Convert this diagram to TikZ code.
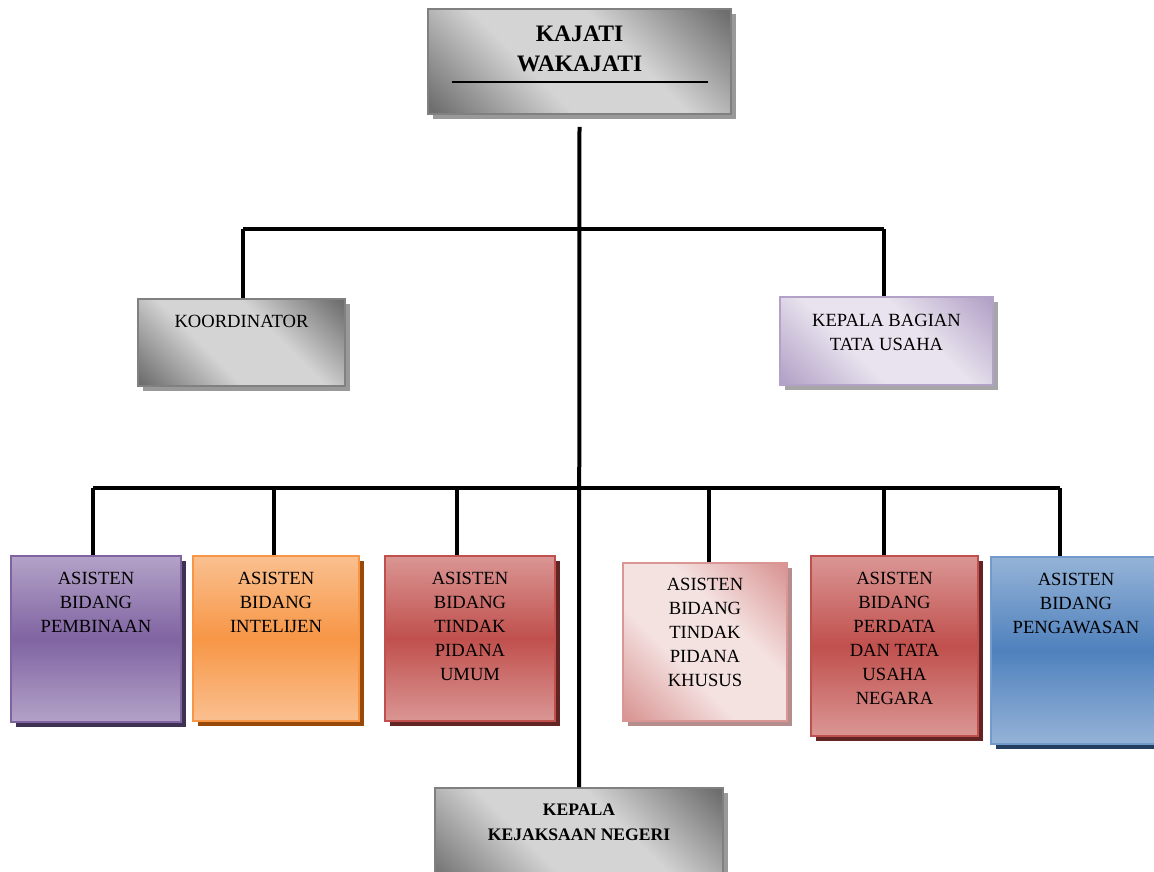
\documentclass[tikz,border=0pt]{standalone}
\usepackage{fontspec}
\setmainfont{Liberation Serif}
\usetikzlibrary{positioning,shadows}

\definecolor{gdark}{HTML}{6E6E6E}
\definecolor{glight}{HTML}{D4D4D4}
\definecolor{pulight}{HTML}{B3A2C7}
\definecolor{pudark}{HTML}{8064A2}
\definecolor{pushadow}{HTML}{3F3151}
\definecolor{orlight}{HTML}{FAC090}
\definecolor{ordark}{HTML}{F79646}
\definecolor{orshadow}{HTML}{984807}
\definecolor{relight}{HTML}{DA9694}
\definecolor{redark}{HTML}{C0504D}
\definecolor{reshadow}{HTML}{632523}
\definecolor{pilight}{HTML}{F4E2E1}
\definecolor{pidark}{HTML}{D99694}
\definecolor{blight}{HTML}{95B3D7}
\definecolor{bdark}{HTML}{4F81BD}
\definecolor{bshadow}{HTML}{244061}
\definecolor{lalight}{HTML}{E8E3EE}
\colorlet{glowout}{gdark}
\colorlet{glowin}{glight}
\pgfdeclareverticalshading[glowout,glowin]{glow}{100bp}{color(0bp)=(glowout); color(16bp)=(glowout); color(40bp)=(glowin); color(60bp)=(glowin); color(84bp)=(glowout); color(100bp)=(glowout)}

\begin{document}
\begin{tikzpicture}[x=0.5pt,y=-0.5pt,
  box/.style={anchor=north west,inner sep=0pt,line width=1pt},
  shad/.style={drop shadow={shadow xshift=2.5pt,shadow yshift=-2.5pt,fill=#1,opacity=1}},
  diag/.style 2 args={box,draw=#1,/utils/exec={\colorlet{glowout}{#1}\colorlet{glowin}{#2}},shading=glow,shading angle=-45},
  vert/.style 2 args={box,draw=#2,top color=#1,bottom color=#1,middle color=#2},
  txt/.style={align=center,inner sep=0pt,font=\fontsize{9.3}{12}\selectfont},
  conn/.style={line width=2pt}]
\useasboundingbox (0,0) rectangle (1154,871);

\node [diag={gdark}{glight},draw=gray,shad=gray!80,minimum width=151.5pt,minimum height=52.5pt] (top) at (427,8) {};
\node [txt,font=\fontsize{11.8}{15}\selectfont\bfseries,below=9pt of top.north] (topt) {KAJATI\\WAKAJATI};
\draw [line width=0.8pt] (452,82) -- (708,82);

\node [diag={gdark}{glight},draw=gray,shad=gray!80,minimum width=103.5pt,minimum height=43.5pt] (koor) at (137,298) {};
\node [txt,below=8.5pt of koor.north] (koort) {KOORDINATOR};

\node [diag={pulight}{lalight},shad=gray!70,minimum width=106.5pt,minimum height=44pt] (kbtu) at (779,296) {};
\node [txt,below=9pt of kbtu.north] (kbtut) {KEPALA BAGIAN\\TATA USAHA};

\node [vert={pulight}{pudark},shad=pushadow,minimum width=85pt,minimum height=83pt] (p1) at (10,555) {};
\node [txt,below=8.5pt of p1.north] (p1t) {ASISTEN\\BIDANG\\PEMBINAAN};

\node [vert={orlight}{ordark},shad=orshadow,minimum width=83pt,minimum height=82.5pt] (p2) at (192,555) {};
\node [txt,below=8.5pt of p2.north] (p2t) {ASISTEN\\BIDANG\\INTELIJEN};

\node [vert={relight}{redark},shad=reshadow,minimum width=85pt,minimum height=82.5pt] (p3) at (384,555) {};
\node [txt,below=8.5pt of p3.north] (p3t) {ASISTEN\\BIDANG\\TINDAK\\PIDANA\\UMUM};

\node [diag={pidark}{pilight},shad=pidark!60!gray,minimum width=82pt,minimum height=79pt] (p4) at (622,562) {};
\node [txt,below=8pt of p4.north] (p4t) {ASISTEN\\BIDANG\\TINDAK\\PIDANA\\KHUSUS};

\node [vert={relight}{redark},shad=reshadow,minimum width=83.5pt,minimum height=90pt] (p5) at (810,555) {};
\node [txt,below=8.5pt of p5.north] (p5t) {ASISTEN\\BIDANG\\PERDATA\\DAN TATA\\USAHA\\NEGARA};

\node [vert={blight}{bdark},draw=bdark!80,shad=bshadow,minimum width=85pt,minimum height=93.5pt] (p6) at (990,556) {};
\node [txt,below=8.5pt of p6.north] (p6t) {ASISTEN\\BIDANG\\PENGAWASAN};

\node [diag={gdark}{glight},draw=gray,shad=gray!80,minimum width=144pt,minimum height=50pt] (kn) at (434,787) {};
\node [txt,font=\fontsize{8.8}{12.5}\selectfont\bfseries,below=8pt of kn.north] (knt) {KEPALA\\KEJAKSAAN NEGERI};

% garis
\coordinate (c1) at (243,229);
\coordinate (c2) at (884,229);
\coordinate (b1) at (93,488);
\coordinate (b2) at (274,488);
\coordinate (b3) at (457,488);
\coordinate (b4) at (709,488);
\coordinate (b5) at (884,488);
\coordinate (b6) at (1060,488);

\draw [conn,shorten <=6pt] (top.south) -- (kn.north);
\draw [conn] (c1) -- (c2);
\draw [conn] (c1) -- (c1 |- koor.north);
\draw [conn] (c2) -- (c2 |- kbtu.north);
\draw [conn] (b1) -- (b6);
\foreach \i in {1,...,6}
  \draw [conn] (b\i) -- (b\i |- p\i.north);
\end{tikzpicture}
\end{document}
